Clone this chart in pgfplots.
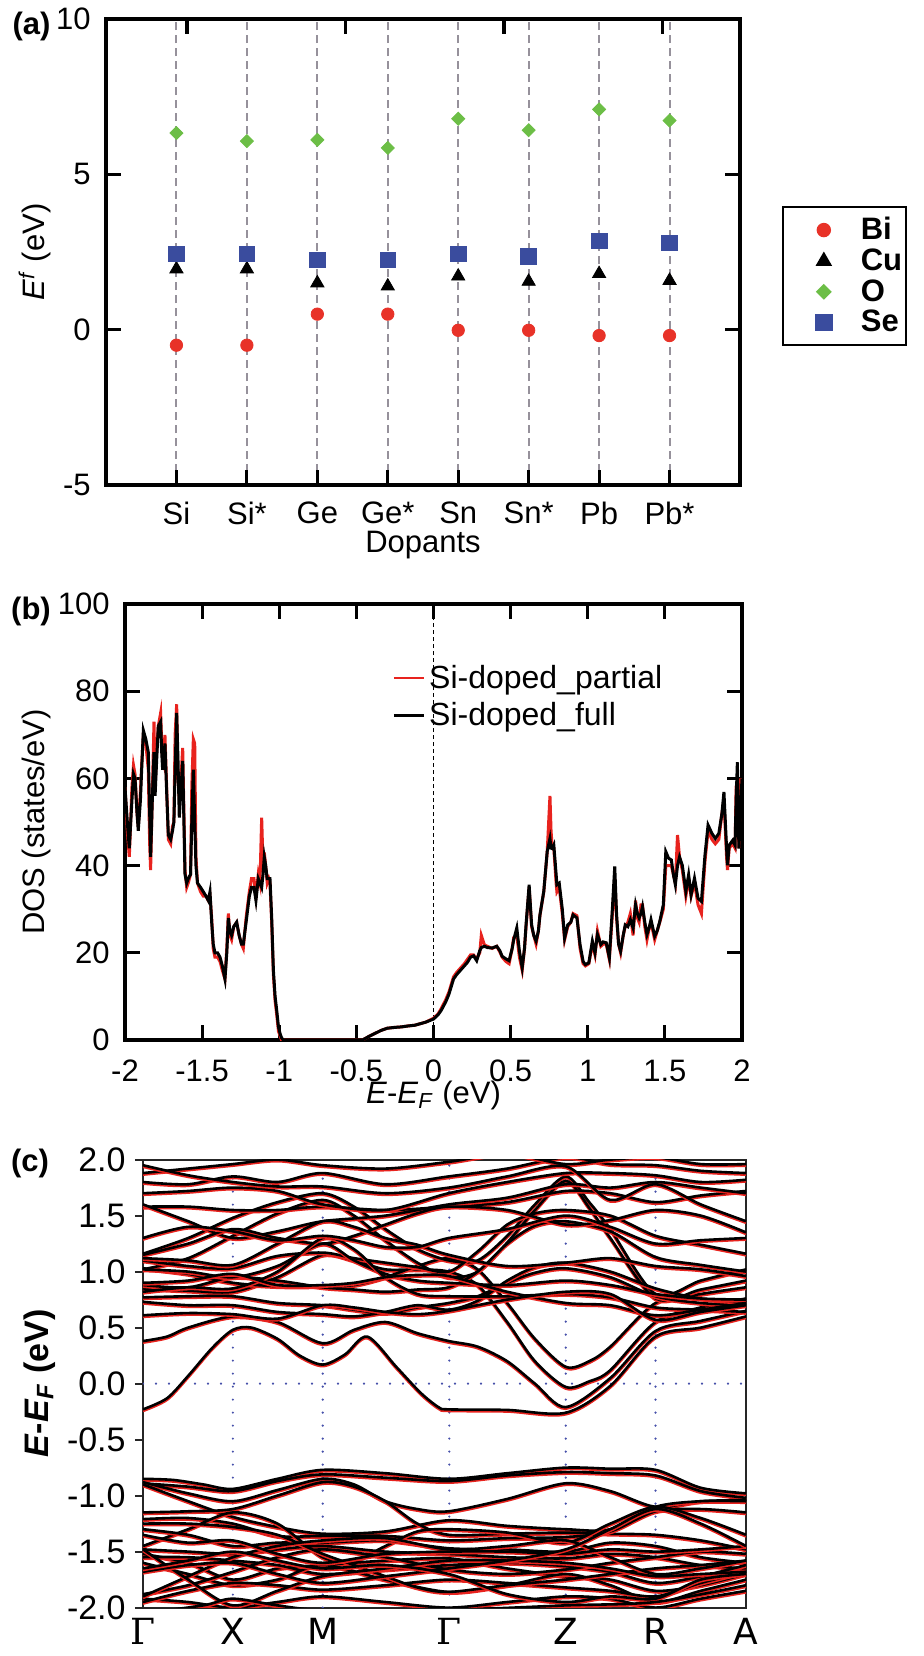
\documentclass[border=0pt]{standalone}
\usepackage{fontspec}
\setmainfont{Liberation Sans}
\newfontfamily\kfont{DejaVu Sans}
\newfontfamily\gfont{DejaVu Serif}
\usepackage{pgfplots}
\pgfplotsset{compat=1.18}
\usepackage{pgfplotstable}

\definecolor{bired}{RGB}{232,50,40}
\definecolor{ogreen}{RGB}{108,190,70}
\definecolor{seblue}{RGB}{58,76,158}
\definecolor{dgray}{RGB}{150,145,155}
\definecolor{kblue}{RGB}{70,80,170}
\definecolor{bandred}{RGB}{232,35,30}

% legend picture for the marker-only series of (a): mark 20.5pt in, cell 37pt wide
\pgfplotsset{lgmark/.style={legend image code/.code={%
  \path[draw=none, fill=none] (0pt,-5pt) rectangle (37pt,5pt);
  \draw[mark repeat=2,mark phase=2,##1]
    plot coordinates {(0pt,0pt) (20.5pt,0pt) (37pt,0pt)};}}}

% one band: red copy a little lower, black on top
\newcommand{\band}[1]{%
  \addplot[bandred, line width=1.3pt, smooth, yshift=-0.8pt] coordinates {#1};
  \addplot[black, line width=1.3pt, smooth] coordinates {#1};
}

% DOS: E, full, partial
\pgfplotstableread{
E full partial
-2.000 58 58
-1.985 50 48
-1.972 44 42
-1.955 55 58
-1.945 61 63
-1.935 60 61
-1.922 52 52
-1.914 48 49
-1.900 55 57
-1.892 62 63
-1.881 71 70
-1.865 69 68
-1.849 66 62
-1.840 52 45
-1.834 42 39
-1.823 55 56
-1.812 66 73
-1.805 56 58
-1.795 64 66
-1.784 72 72
-1.769 73 75
-1.762 66 68
-1.756 62 64
-1.748 65 63
-1.741 68 70
-1.730 57 58
-1.719 47 46
-1.704 46 45
-1.692 48 49
-1.683 50 50
-1.675 62 70
-1.665 75 77
-1.657 65 60
-1.648 51 55
-1.640 56 58
-1.626 64 67
-1.618 50 52
-1.611 38 39
-1.600 36 35
-1.590 37 36
-1.575 38 38
-1.567 50 58
-1.557 62 69
-1.548 50 68
-1.540 40 42
-1.530 36 36
-1.510 35 34
-1.492 34 33
-1.475 33 33
-1.460 32 32
-1.449 34 33
-1.438 27 28
-1.428 22 21
-1.417 20 19
-1.400 20 19
-1.384 19 18
-1.369 17 16
-1.352 14 14
-1.340 20 21
-1.330 28 29
-1.320 25 24
-1.309 24 23
-1.295 26 26
-1.276 27 27
-1.260 24 24
-1.245 22 22
-1.233 22 21
-1.215 27 28
-1.194 33 34
-1.180 35 37
-1.164 35 37
-1.151 32 33
-1.136 37 38
-1.125 36 36
-1.114 35 51
-1.105 38 40
-1.097 42 43
-1.088 40 40
-1.078 37 36
-1.068 37 37
-1.060 37 36
-1.049 28 27
-1.038 16 15
-1.027 10 9
-1.017 7 6
-1.005 3 2
-0.995 1.5 1
-0.985 0.5 0
-0.974 0 0
-0.460 0 0
-0.420 0.8 0.8
-0.380 1.5 1.5
-0.340 2.2 2.2
-0.300 2.7 2.7
-0.250 2.9 2.9
-0.210 3.0 3.0
-0.170 3.2 3.2
-0.120 3.4 3.4
-0.080 3.8 3.8
-0.050 4.1 4.1
0.000 4.8 5.0
0.030 5.8 6.0
0.050 6.8 7.2
0.080 8.8 9.3
0.100 10.5 11
0.130 14 14.5
0.150 15 15.5
0.175 16 16.5
0.200 17 17.5
0.220 17.8 18.5
0.240 19 19.5
0.260 19.3 19.5
0.280 18.2 18.6
0.300 20.5 20
0.310 21.2 24
0.330 21.5 21.8
0.350 21.2 21.5
0.380 21.1 21
0.410 21.5 21.5
0.430 20.5 20.2
0.445 19.2 19
0.470 18.6 18
0.490 18.2 17.5
0.510 21 21
0.520 23 23.5
0.540 25.7 24
0.557 20.4 19
0.575 16.6 16
0.590 21 21
0.600 26.4 26
0.620 35.6 35
0.636 26.4 26
0.650 24 24
0.665 22.7 22
0.680 25 25
0.690 28.7 28.5
0.715 34.1 34
0.737 43.2 43
0.755 46.2 56
0.762 44 48
0.770 43.9 44
0.780 44.7 44
0.795 38 36
0.800 35.6 34
0.815 36 35
0.835 30 29
0.850 23.4 23
0.870 26.4 26
0.890 27 27
0.905 28.7 29
0.930 28 28.5
0.950 21.9 21
0.970 18 17.5
0.985 17.3 17
1.007 17.7 17.5
1.030 22.7 22
1.047 20 19.5
1.063 24.2 25
1.085 21.9 21.5
1.100 22.5 22
1.120 22.3 22
1.140 18.9 18.5
1.160 30.3 29
1.175 39.8 37
1.187 28.7 28
1.200 22 22
1.213 20.4 20
1.230 24 24
1.243 26.4 26
1.260 26 27
1.276 27.6 29
1.294 25.7 24
1.310 31 32
1.322 29 28
1.333 28 27
1.345 29 31
1.355 30.6 31
1.370 27 26
1.384 24.2 23
1.400 26 26
1.410 27.6 27
1.434 23.8 23
1.450 25 25
1.467 27.2 27
1.490 31 30
1.506 43.2 40
1.524 41.7 40
1.542 41.3 40
1.555 38 38
1.568 35.6 36
1.582 40 47
1.595 42 42
1.613 40.1 39
1.636 34.1 33
1.654 37.9 37
1.670 33.3 33
1.692 37.1 36
1.715 32.5 31
1.737 31.8 29
1.760 42.4 41
1.780 49.3 48
1.805 47.4 46
1.827 46.2 45
1.850 47.4 46
1.870 52 52
1.883 56.9 55
1.900 44 42
1.906 40.1 39
1.917 44.7 44
1.940 45.8 45
1.955 44.7 44
1.962 55 58
1.970 63.7 58
1.980 43.9 44
1.990 52 60
2.000 60 58
}\dostable

\begin{document}
\begin{tikzpicture}[font=\fontsize{15.5}{18}\selectfont]
\path[use as bounding box] (0,0) rectangle (462pt,-828pt);

% ---------------- (a) formation energies ----------------
\begin{axis}[
  at={(53pt,-9.5pt)}, anchor=north west,
  scale only axis, width=317pt, height=233pt,
  xmin=0, xmax=9, ymin=-5, ymax=10,
  xtick={1,...,8}, xticklabels={Si,Si*,Ge,Ge*,Sn,Sn*,Pb,Pb*},
  xtick pos=bottom,
  ytick={-5,0,5,10}, yticklabels={-5,0,5,10},
  tick align=inside, major tick length=7.5pt,
  major tick style={line width=1.6pt, black},
  axis line style={line width=1.6pt},
  xmajorgrids,
  major x grid style={dgray, line width=1pt, dash pattern=on 4pt off 2.5pt},
  tick label style={inner sep=0pt},
  xticklabel style={anchor=center, yshift=-14pt},
  yticklabel style={anchor=east, xshift=-7.5pt},
  xlabel={Dopants},
  xlabel style={at={(axis description cs:0.5,-0.129)}, anchor=center},
  ylabel={\textit{E}\textsuperscript{\textit{f}} (eV)},
  ylabel style={at={(axis description cs:-0.112,0.5)}, anchor=center},
  legend style={at={(1.066,0.598)}, anchor=north west, draw=black,
    line width=1pt, font=\bfseries\fontsize{15.5}{18}\selectfont,
    inner xsep=0pt, inner ysep=3pt, row sep=-1pt},
  legend cell align=left,
]
\addplot[only marks, mark=*, mark size=3.1pt, color=bired, lgmark] coordinates {
  (1,-0.50) (2,-0.50) (3,0.50) (4,0.50) (5,-0.02) (6,-0.02) (7,-0.19) (8,-0.19)};
\addlegendentry{Bi}
\addplot[only marks, mark=triangle*, mark size=3.8pt, color=black, lgmark] coordinates {
  (1,1.95) (2,1.95) (3,1.50) (4,1.40) (5,1.72) (6,1.55) (7,1.80) (8,1.58)};
\addlegendentry{Cu}
\addplot[only marks, mark=square*, mark size=2.3pt, color=ogreen,
  mark options={rotate=45}, lgmark] coordinates {
  (1,6.33) (2,6.07) (3,6.11) (4,5.85) (5,6.79) (6,6.42) (7,7.09) (8,6.73)};
\addlegendentry{O}
\addplot[only marks, mark=square*, mark size=3.9pt, color=seblue, lgmark] coordinates {
  (1,2.44) (2,2.44) (3,2.25) (4,2.25) (5,2.44) (6,2.35) (7,2.86) (8,2.79)};
\addlegendentry{Se}
\end{axis}
% top ticks of (a)
\begin{axis}[
  at={(53pt,-9.5pt)}, anchor=north west,
  scale only axis, width=317pt, height=233pt,
  xmin=0, xmax=9, ymin=-5, ymax=10,
  axis x line*=top, axis y line=none,
  xtick={1.15,3.4,5.65,7.9}, xticklabels={},
  tick align=inside, major tick length=7.5pt,
  major tick style={line width=1.6pt, black},
  axis line style={line width=1.6pt},
]
\end{axis}
\node[font=\bfseries\fontsize{15.5}{18}\selectfont] at (15.75pt,-13pt) {(a)};

% ---------------- (b) DOS ----------------
\begin{axis}[
  at={(62.5pt,-302pt)}, anchor=north west,
  scale only axis, width=308.5pt, height=218pt,
  xmin=-2, xmax=2, ymin=0, ymax=100,
  xtick={-2,-1.5,-1,-0.5,0,0.5,1,1.5,2},
  xticklabels={-2,-1.5,-1,-0.5,0,0.5,1,1.5,2},
  ytick={0,20,40,60,80,100}, yticklabels={0,20,40,60,80,100},
  tick align=inside, major tick length=7.5pt,
  major tick style={line width=1.6pt, black},
  axis line style={line width=1.6pt},
  tick label style={inner sep=0pt},
  xticklabel style={anchor=center, yshift=-15.5pt},
  yticklabel style={anchor=east, xshift=-7.5pt},
  xlabel={\textit{E}-\textit{E}\textsubscript{\textit{F}} (eV)},
  xlabel style={at={(axis description cs:0.5,-0.128)}, anchor=center},
  ylabel={DOS (states/eV)},
  ylabel style={at={(axis description cs:-0.143,0.5)}, anchor=center},
  legend style={at={(axis description cs:0.433,0.87)}, anchor=north west,
    draw=none, fill=none, inner sep=0pt, row sep=1.5pt,
    font=\fontsize{16}{18}\selectfont},
  legend cell align=left,
  legend image code/.code={\draw[#1, line width=1.3pt] (0pt,0pt) -- (15pt,0pt);},
]
\addplot[black, line width=0.8pt, dash pattern=on 2pt off 1.5pt, forget plot]
  coordinates {(0,0) (0,100)};
\addplot[bandred, line width=1.5pt] table[x=E, y=partial] {\dostable};
\addlegendentry{Si-doped\_partial}
\addplot[black, line width=1.5pt] table[x=E, y=full] {\dostable};
\addlegendentry{Si-doped\_full}
\end{axis}
\node[font=\bfseries\fontsize{15.5}{18}\selectfont] at (15.5pt,-305.5pt) {(b)};

% ---------------- (c) bands ----------------
\begin{axis}[
  at={(71.5pt,-579.8pt)}, anchor=north west,
  scale only axis, width=301.5pt, height=224pt,
  xmin=0, xmax=1, ymin=-2, ymax=2,
  xtick={0,0.149,0.298,0.508,0.701,0.85,1},
  xticklabels={\gfont Γ,X,M,\gfont Γ,Z,R,A},
  xtick style={draw=none},
  ytick={-2,-1.5,-1,-0.5,0,0.5,1,1.5,2},
  yticklabels={-2.0,-1.5,-1.0,-0.5,0.0,0.5,1.0,1.5,2.0},
  ytick pos=left, tick align=outside, major tick length=4pt,
  major tick style={line width=1pt, black!85},
  axis line style={line width=1pt, black!85},
  tick label style={inner sep=0pt},
  yticklabel style={anchor=east, xshift=-4.5pt, font=\fontsize{17}{20}\selectfont},
  xticklabel style={anchor=center, yshift=-8pt, font=\kfont\fontsize{18}{20}\selectfont},
  ylabel={\bfseries\textit{E}-\textit{E}\textsubscript{\textit{F}} (eV)},
  ylabel style={at={(axis description cs:-0.172,0.5)}, anchor=center,
    font=\fontsize{17}{20}\selectfont},
]
\addplot[kblue, line width=1.2pt, line cap=round, dash pattern=on 0pt off 6.5pt]
  coordinates {(0,0) (1,0)};
\addplot[kblue, line width=1.2pt, line cap=round, dash pattern=on 0pt off 6.5pt]
  coordinates {(0.149,-2) (0.149,2)};
\addplot[kblue, line width=1.2pt, line cap=round, dash pattern=on 0pt off 6.5pt]
  coordinates {(0.298,-2) (0.298,2)};
\addplot[kblue, line width=1.2pt, line cap=round, dash pattern=on 0pt off 6.5pt]
  coordinates {(0.508,-2) (0.508,2)};
\addplot[kblue, line width=1.2pt, line cap=round, dash pattern=on 0pt off 6.5pt]
  coordinates {(0.701,-2) (0.701,2)};
\addplot[kblue, line width=1.2pt, line cap=round, dash pattern=on 0pt off 6.5pt]
  coordinates {(0.85,-2) (0.85,2)};

% conduction bands
\band{(0,-0.23)(0.04,-0.13)(0.075,0.07)(0.115,0.32)(0.149,0.48)(0.18,0.50)(0.223,0.40)(0.26,0.25)(0.298,0.17)(0.335,0.26)(0.372,0.42)(0.42,0.15)(0.46,-0.08)(0.49,-0.21)(0.507,-0.23)(0.604,-0.235)(0.701,-0.26)(0.775,-0.02)(0.85,0.42)(0.925,0.50)(1,0.60)}
\band{(0,0.38)(0.04,0.42)(0.075,0.50)(0.149,0.60)(0.223,0.55)(0.298,0.36)(0.35,0.48)(0.402,0.55)(0.455,0.45)(0.507,0.38)(0.555,0.33)(0.604,0.20)(0.65,0.0)(0.701,-0.21)(0.775,0.05)(0.85,0.47)(0.925,0.56)(1,0.65)}
\band{(0,0.85)(0.075,0.83)(0.149,0.82)(0.223,0.95)(0.298,1.15)(0.35,1.10)(0.402,1.02)(0.455,1.02)(0.507,1.0)(0.555,0.88)(0.604,0.55)(0.65,0.20)(0.701,-0.03)(0.74,0.02)(0.775,0.12)(0.85,0.55)(0.925,0.68)(1,0.76)}
\band{(0,1.03)(0.075,0.98)(0.149,0.90)(0.223,0.87)(0.298,0.87)(0.35,0.88)(0.402,0.95)(0.455,1.05)(0.507,1.12)(0.555,1.02)(0.604,0.72)(0.65,0.40)(0.701,0.15)(0.74,0.20)(0.775,0.33)(0.85,0.72)(0.925,0.80)(1,0.86)}
\band{(0,1.16)(0.075,1.30)(0.149,1.48)(0.223,1.62)(0.298,1.70)(0.35,1.58)(0.402,1.38)(0.455,1.20)(0.507,1.10)(0.555,1.10)(0.604,1.32)(0.65,1.60)(0.701,1.85)(0.74,1.62)(0.775,1.38)(0.85,0.80)(0.925,0.92)(1,1.02)}
\band{(0,1.02)(0.075,1.12)(0.149,1.32)(0.223,1.52)(0.298,1.64)(0.35,1.50)(0.402,1.28)(0.455,1.08)(0.507,0.95)(0.555,1.00)(0.604,1.26)(0.65,1.55)(0.701,1.81)(0.74,1.57)(0.775,1.30)(0.85,0.76)(0.925,0.84)(1,0.92)}
\band{(0,0.77)(0.075,0.78)(0.149,0.78)(0.223,0.72)(0.298,0.70)(0.35,0.66)(0.402,0.63)(0.455,0.68)(0.507,0.72)(0.555,0.78)(0.604,0.90)(0.65,0.99)(0.701,1.03)(0.775,0.95)(0.85,0.78)(0.925,0.72)(1,0.70)}
\band{(0,0.73)(0.075,0.70)(0.149,0.70)(0.223,0.64)(0.298,0.62)(0.35,0.60)(0.402,0.64)(0.455,0.70)(0.507,0.66)(0.555,0.74)(0.604,0.92)(0.65,1.04)(0.701,1.08)(0.775,1.0)(0.85,0.85)(0.925,0.76)(1,0.73)}
\band{(0,0.88)(0.075,0.86)(0.149,0.95)(0.223,0.92)(0.298,0.86)(0.35,0.84)(0.402,0.82)(0.455,0.84)(0.507,0.86)(0.555,1.00)(0.604,1.25)(0.65,1.41)(0.701,1.45)(0.775,1.36)(0.85,1.13)(0.925,1.06)(1,1.00)}
\band{(0,1.10)(0.075,1.05)(0.149,1.03)(0.223,1.14)(0.298,1.17)(0.35,1.12)(0.402,1.08)(0.455,1.04)(0.507,1.0)(0.555,1.18)(0.604,1.42)(0.65,1.52)(0.701,1.55)(0.775,1.50)(0.85,1.32)(0.925,1.24)(1,1.16)}
\band{(0,1.58)(0.075,1.58)(0.149,1.55)(0.223,1.55)(0.298,1.58)(0.402,1.55)(0.507,1.58)(0.604,1.62)(0.701,1.72)(0.775,1.70)(0.85,1.62)(0.925,1.68)(1,1.72)}
\band{(0,1.60)(0.075,1.45)(0.149,1.30)(0.223,1.36)(0.298,1.45)(0.402,1.50)(0.507,1.60)(0.604,1.66)(0.701,1.78)(0.775,1.75)(0.85,1.80)(0.925,1.75)(1,1.70)}
\band{(0,1.70)(0.075,1.72)(0.149,1.75)(0.223,1.72)(0.298,1.60)(0.402,1.55)(0.507,1.70)(0.604,1.80)(0.701,1.88)(0.775,1.88)(0.85,1.86)(0.925,1.80)(1,1.82)}
\band{(0,1.80)(0.075,1.78)(0.149,1.85)(0.223,1.80)(0.298,1.88)(0.402,1.78)(0.507,1.85)(0.604,1.92)(0.701,2.02)(0.775,1.96)(0.85,1.95)(0.925,1.90)(1,1.88)}
\band{(0,1.88)(0.075,1.92)(0.149,1.96)(0.223,2.0)(0.298,1.95)(0.402,1.92)(0.507,1.98)(0.604,2.05)(0.701,1.96)(0.775,2.0)(0.85,2.02)(0.925,1.96)(1,1.96)}
\band{(0,1.95)(0.075,1.86)(0.149,1.80)(0.223,1.76)(0.298,1.76)(0.402,1.70)(0.507,1.75)(0.604,1.85)(0.701,1.94)(0.775,1.64)(0.85,1.78)(0.925,1.60)(1,1.45)}
\band{(0,1.15)(0.075,1.25)(0.149,1.38)(0.223,1.30)(0.298,1.25)(0.35,1.32)(0.402,1.42)(0.455,1.52)(0.507,1.58)(0.604,1.55)(0.701,1.42)(0.775,1.46)(0.85,1.55)(0.925,1.50)(1,1.35)}
\band{(0,1.02)(0.075,1.00)(0.149,0.95)(0.223,1.05)(0.298,1.25)(0.35,1.10)(0.402,0.98)(0.455,0.92)(0.507,0.90)(0.604,0.88)(0.701,0.92)(0.775,0.88)(0.85,0.80)(0.925,0.76)(1,0.75)}
\band{(0,0.82)(0.075,0.86)(0.149,0.85)(0.223,1.0)(0.298,1.30)(0.35,1.20)(0.402,0.95)(0.455,0.80)(0.507,0.78)(0.604,0.78)(0.701,0.80)(0.775,0.77)(0.85,0.68)(0.925,0.66)(1,0.64)}
\band{(0,1.12)(0.075,1.10)(0.149,1.06)(0.223,1.25)(0.298,1.45)(0.35,1.40)(0.402,1.30)(0.455,1.24)(0.507,1.15)(0.604,1.05)(0.701,1.08)(0.775,1.12)(0.85,1.05)(0.925,1.02)(1,0.96)}
\band{(0,0.90)(0.075,0.92)(0.149,0.98)(0.223,0.88)(0.298,0.88)(0.35,0.90)(0.402,0.95)(0.455,0.97)(0.507,0.96)(0.604,0.82)(0.701,0.72)(0.775,0.70)(0.85,0.61)(0.925,0.66)(1,0.72)}
\band{(0,0.61)(0.075,0.63)(0.149,0.62)(0.223,0.58)(0.298,0.70)(0.35,0.68)(0.402,0.64)(0.455,0.62)(0.507,0.65)(0.604,0.75)(0.701,0.82)(0.775,0.80)(0.85,0.57)(0.925,0.64)(1,0.70)}
\band{(0,1.30)(0.075,1.40)(0.149,1.36)(0.223,1.28)(0.298,1.32)(0.35,1.28)(0.402,1.22)(0.455,1.22)(0.507,1.30)(0.604,1.38)(0.701,1.50)(0.775,1.40)(0.85,1.25)(0.925,1.28)(1,1.30)}

% valence bands
\band{(0,-0.85)(0.05,-0.86)(0.10,-0.90)(0.149,-0.94)(0.223,-0.85)(0.298,-0.77)(0.402,-0.80)(0.507,-0.85)(0.604,-0.80)(0.701,-0.75)(0.775,-0.76)(0.85,-0.77)(0.925,-0.93)(1,-0.98)}
\band{(0,-0.89)(0.075,-0.92)(0.149,-0.96)(0.223,-0.87)(0.298,-0.81)(0.402,-0.84)(0.507,-0.87)(0.604,-0.82)(0.701,-0.79)(0.775,-0.80)(0.85,-0.82)(0.925,-0.96)(1,-1.02)}
\band{(0,-0.88)(0.075,-0.98)(0.149,-1.05)(0.223,-0.95)(0.298,-0.85)(0.35,-0.90)(0.402,-1.05)(0.455,-1.12)(0.507,-1.14)(0.604,-1.03)(0.701,-0.89)(0.775,-0.96)(0.85,-1.10)(0.925,-1.05)(1,-1.04)}
\band{(0,-0.90)(0.075,-1.05)(0.149,-1.19)(0.223,-1.28)(0.298,-1.34)(0.402,-1.32)(0.507,-1.22)(0.604,-1.27)(0.701,-1.30)(0.775,-1.30)(0.85,-1.10)(0.925,-1.05)(1,-1.05)}
\band{(0,-1.15)(0.075,-1.14)(0.149,-1.12)(0.223,-1.00)(0.298,-0.88)(0.35,-0.92)(0.402,-1.05)(0.455,-1.25)(0.507,-1.35)(0.604,-1.34)(0.701,-1.33)(0.775,-1.34)(0.85,-1.35)(0.925,-1.40)(1,-1.48)}
\band{(0,-1.21)(0.075,-1.20)(0.149,-1.25)(0.223,-1.36)(0.298,-1.36)(0.402,-1.36)(0.507,-1.40)(0.604,-1.38)(0.701,-1.37)(0.775,-1.32)(0.85,-1.14)(0.925,-1.12)(1,-1.15)}
\band{(0,-1.45)(0.075,-1.30)(0.149,-1.15)(0.223,-1.25)(0.298,-1.55)(0.35,-1.58)(0.402,-1.45)(0.455,-1.32)(0.507,-1.30)(0.604,-1.33)(0.701,-1.42)(0.775,-1.25)(0.85,-1.10)(0.925,-1.20)(1,-1.35)}
\band{(0,-1.30)(0.075,-1.35)(0.149,-1.45)(0.223,-1.42)(0.298,-1.42)(0.402,-1.40)(0.507,-1.47)(0.604,-1.48)(0.701,-1.50)(0.775,-1.42)(0.85,-1.45)(0.925,-1.55)(1,-1.60)}
\band{(0,-1.48)(0.075,-1.50)(0.149,-1.52)(0.223,-1.48)(0.298,-1.45)(0.402,-1.50)(0.507,-1.52)(0.604,-1.55)(0.701,-1.56)(0.775,-1.52)(0.85,-1.55)(0.925,-1.62)(1,-1.65)}
\band{(0,-1.52)(0.075,-1.60)(0.149,-1.75)(0.223,-1.65)(0.298,-1.62)(0.402,-1.58)(0.507,-1.56)(0.604,-1.65)(0.701,-1.72)(0.775,-1.75)(0.85,-1.85)(0.925,-1.80)(1,-1.70)}
\band{(0,-1.55)(0.075,-1.55)(0.149,-1.58)(0.223,-1.62)(0.298,-1.70)(0.402,-1.66)(0.507,-1.62)(0.604,-1.60)(0.701,-1.63)(0.775,-1.68)(0.85,-1.78)(0.925,-1.72)(1,-1.62)}
\band{(0,-1.60)(0.075,-1.70)(0.149,-1.80)(0.223,-1.75)(0.298,-1.62)(0.402,-1.75)(0.507,-1.86)(0.604,-1.80)(0.701,-1.70)(0.775,-1.80)(0.85,-1.95)(0.925,-1.85)(1,-1.75)}
\band{(0,-1.88)(0.075,-1.80)(0.149,-1.68)(0.223,-1.55)(0.298,-1.48)(0.402,-1.55)(0.507,-1.66)(0.604,-1.70)(0.701,-1.66)(0.775,-1.60)(0.85,-1.55)(0.925,-1.50)(1,-1.52)}
\band{(0,-1.92)(0.075,-1.95)(0.149,-2.0)(0.223,-1.95)(0.298,-1.90)(0.402,-1.95)(0.507,-2.0)(0.604,-1.95)(0.701,-1.90)(0.775,-1.92)(0.85,-2.0)(0.925,-1.92)(1,-1.85)}
\band{(0,-1.95)(0.075,-1.85)(0.149,-1.78)(0.223,-1.80)(0.298,-1.84)(0.402,-1.80)(0.507,-1.75)(0.604,-1.78)(0.701,-1.82)(0.775,-1.85)(0.85,-1.90)(0.925,-1.78)(1,-1.68)}
\band{(0,-1.25)(0.075,-1.25)(0.149,-1.28)(0.223,-1.35)(0.298,-1.52)(0.35,-1.62)(0.402,-1.72)(0.455,-1.82)(0.507,-1.86)(0.604,-1.80)(0.701,-1.75)(0.775,-1.70)(0.85,-1.65)(0.925,-1.62)(1,-1.58)}
\band{(0,-1.90)(0.075,-1.72)(0.149,-1.55)(0.223,-1.45)(0.298,-1.40)(0.402,-1.38)(0.507,-1.48)(0.604,-1.45)(0.701,-1.40)(0.775,-1.55)(0.85,-1.70)(0.925,-1.65)(1,-1.58)}
\band{(0,-1.48)(0.075,-1.75)(0.149,-1.98)(0.223,-1.85)(0.298,-1.72)(0.402,-1.65)(0.507,-1.58)(0.604,-1.58)(0.701,-1.60)(0.775,-1.65)(0.85,-1.72)(0.925,-1.70)(1,-1.68)}
\band{(0,-1.35)(0.075,-1.42)(0.149,-1.40)(0.223,-1.52)(0.298,-1.60)(0.402,-1.52)(0.507,-1.50)(0.604,-1.50)(0.701,-1.52)(0.775,-1.48)(0.85,-1.50)(0.925,-1.48)(1,-1.45)}
\band{(0,-1.68)(0.075,-1.62)(0.149,-1.60)(0.223,-1.70)(0.298,-1.78)(0.402,-1.72)(0.507,-1.65)(0.604,-1.58)(0.701,-1.48)(0.775,-1.30)(0.85,-1.12)(0.925,-1.25)(1,-1.45)}
\band{(0,-1.65)(0.075,-1.58)(0.149,-1.50)(0.223,-1.58)(0.298,-1.65)(0.402,-1.62)(0.507,-1.70)(0.604,-1.88)(0.701,-1.95)(0.775,-1.90)(0.85,-1.92)(0.925,-1.75)(1,-1.70)}
\band{(0,-2.05)(0.1,-1.98)(0.149,-1.92)(0.223,-1.98)(0.298,-2.02)(0.507,-2.02)(0.701,-1.98)(0.85,-1.95)(1,-1.80)}
\end{axis}
\node[font=\bfseries\fontsize{15.5}{18}\selectfont] at (15pt,-581.5pt) {(c)};
\end{tikzpicture}
\end{document}
